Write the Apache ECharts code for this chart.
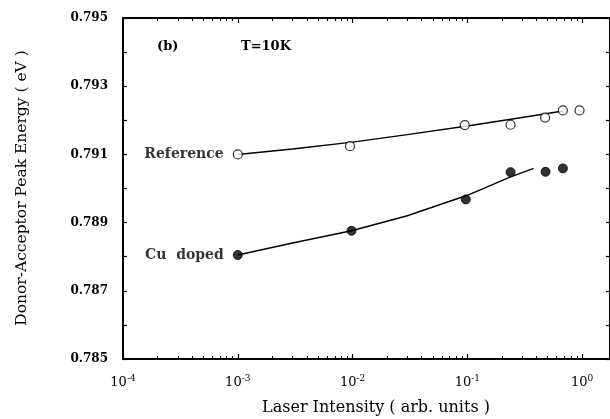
<!DOCTYPE html>
<html><head><meta charset="utf-8">
<script src="https://cdn.jsdelivr.net/npm/echarts@6/dist/echarts.min.js"></script>
<style>html,body{margin:0;padding:0;background:#fff}#c{width:610px;height:419px}</style>
</head><body><div id="c"></div>
<script>
// Data
const refX = [0.001, 0.0095, 0.095, 0.238, 0.476, 0.68, 0.95];
const refY = [0.7910, 0.79124, 0.79186, 0.79187, 0.79208, 0.79229, 0.79229];
const cuX = [0.001, 0.0098, 0.097, 0.238, 0.48, 0.68];
const cuY = [0.78805, 0.78876, 0.78968, 0.79048, 0.79049, 0.79059];
const refFitX = [0.001, 0.003, 0.01, 0.03, 0.1, 0.3, 0.68];
const refFitY = [0.7910, 0.79116, 0.79136, 0.79158, 0.79183, 0.79208, 0.79227];
const cuFitX = [0.001, 0.003, 0.0098, 0.03, 0.1, 0.238, 0.378];
const cuFitY = [0.78805, 0.7884, 0.78876, 0.7892, 0.7898, 0.79034, 0.79059];
const xMajor = [1e-4, 1e-3, 1e-2, 1e-1, 1];
const seriesNames = ['Reference', 'Cu  doped'];

const xMinor = [];
for (let e = -4; e <= 0; e++) for (let m = 2; m <= 9; m++) { const v = m * Math.pow(10, e); if (v < 1.75) xMinor.push(v); }

const FONT = '"DejaVu Serif", "Liberation Serif", serif';
const zip = (a, b) => a.map((v, i) => [v, b[i]]);

const xCommon = { type: 'log', logBase: 10, min: 1e-4, max: 1.75, splitLine: { show: false } };
const chart = echarts.init(document.getElementById('c'), null, { renderer: 'canvas' });
chart.setOption({
  animation: false,
  backgroundColor: '#fff',
  grid: { left: 123, top: 18, width: 488, height: 341, containLabel: false },
  xAxis: [
    Object.assign({}, xCommon, {
      position: 'bottom',
      axisLine: { show: true, onZero: false, lineStyle: { color: '#000', width: 2 } },
      axisTick: { show: true, inside: true, length: 5, customValues: xMajor, lineStyle: { color: '#000', width: 1.2 } },
      axisLabel: {
        show: true, margin: 15, customValues: xMajor,
        formatter: v => '{b|10}{s|' + Math.round(Math.log10(v)) + '}',
        rich: {
          b: { fontFamily: FONT, fontSize: 13, fontWeight: 'normal', color: '#000' },
          s: { fontFamily: FONT, fontSize: 9, fontWeight: 'normal', color: '#000', padding: [0, 0, 9, 0] }
        }
      }
    }),
    Object.assign({}, xCommon, {
      position: 'bottom',
      axisLine: { show: false },
      axisTick: { show: true, inside: true, length: 3, customValues: xMinor, lineStyle: { color: '#000', width: 1 } },
      axisLabel: { show: false }
    }),
    Object.assign({}, xCommon, {
      position: 'top',
      axisLine: { show: true, onZero: false, lineStyle: { color: '#000', width: 2 } },
      axisTick: { show: true, inside: true, length: 5, customValues: xMajor, lineStyle: { color: '#000', width: 1.2 } },
      axisLabel: { show: false }
    }),
    Object.assign({}, xCommon, {
      position: 'top',
      axisLine: { show: false },
      axisTick: { show: true, inside: true, length: 3, customValues: xMinor, lineStyle: { color: '#000', width: 1 } },
      axisLabel: { show: false }
    })
  ],
  yAxis: [
    {
      type: 'value', min: 0.785, max: 0.795, interval: 0.002, position: 'left',
      splitLine: { show: false },
      axisLine: { show: true, onZero: false, lineStyle: { color: '#000', width: 2 } },
      axisTick: { show: true, inside: true, length: 4, lineStyle: { color: '#000', width: 1.2 } },
      minorTick: { show: true, splitNumber: 2, length: 4, lineStyle: { color: '#000', width: 1.2 } },
      axisLabel: { margin: 15, fontFamily: FONT, fontSize: 12, fontWeight: 'bold', color: '#000', formatter: v => v.toFixed(3) }
    },
    {
      type: 'value', min: 0.785, max: 0.795, interval: 0.002, position: 'right',
      splitLine: { show: false },
      axisLine: { show: true, onZero: false, lineStyle: { color: '#000', width: 2 } },
      axisTick: { show: true, inside: true, length: 4, lineStyle: { color: '#000', width: 1.2 } },
      minorTick: { show: true, splitNumber: 2, length: 4, lineStyle: { color: '#000', width: 1.2 } },
      axisLabel: { show: false }
    }
  ],
  graphic: [
    { type: 'text', left: 157, top: 40, style: { text: '(b)', font: 'bold 13px ' + FONT, fill: '#000' } },
    { type: 'text', left: 241, top: 40, style: { text: 'T=10K', font: 'bold 13px ' + FONT, fill: '#000' } },
    { type: 'text', x: 22, y: 188, rotation: Math.PI / 2, style: { text: 'Donor-Acceptor Peak Energy ( eV )', font: '15.5px ' + FONT, fill: '#000', align: 'center', verticalAlign: 'middle' } },
    { type: 'text', x: 376, y: 408, style: { text: 'Laser Intensity ( arb. units )', font: '16px ' + FONT, fill: '#000', align: 'center', verticalAlign: 'middle' } }
  ],
  series: [
    { type: 'line', name: 'refFit', xAxisIndex: 0, yAxisIndex: 0, data: zip(refFitX, refFitY), smooth: false, showSymbol: false, symbol: 'none', lineStyle: { color: '#000', width: 1.5 }, z: 2 },
    { type: 'line', name: 'cuFit', xAxisIndex: 0, yAxisIndex: 0, data: zip(cuFitX, cuFitY), smooth: false, showSymbol: false, symbol: 'none', lineStyle: { color: '#000', width: 1.5 }, z: 2 },
    {
      type: 'scatter', name: seriesNames[0], xAxisIndex: 0, yAxisIndex: 0,
      data: zip(refX, refY).map((d, i) => i === 0 ? { value: d, label: { show: true, position: 'left', distance: 9, formatter: seriesNames[0], fontFamily: FONT, fontSize: 14, fontWeight: 'bold', color: '#000' } } : d),
      symbol: 'circle', symbolSize: 9, itemStyle: { color: '#fff', borderColor: '#000', borderWidth: 1.2 }, z: 3
    },
    {
      type: 'scatter', name: seriesNames[1], xAxisIndex: 0, yAxisIndex: 0,
      data: zip(cuX, cuY).map((d, i) => i === 0 ? { value: d, label: { show: true, position: 'left', distance: 9, formatter: seriesNames[1], fontFamily: FONT, fontSize: 14, fontWeight: 'bold', color: '#000' } } : d),
      symbol: 'circle', symbolSize: 9, itemStyle: { color: '#000', borderColor: '#000', borderWidth: 1 }, z: 3
    }
  ]
});
</script></body></html>
